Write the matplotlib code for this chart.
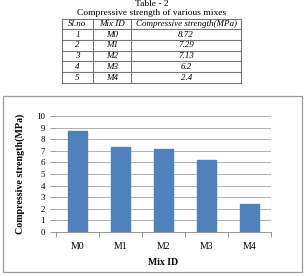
import matplotlib
matplotlib.use("Agg")
import matplotlib.pyplot as plt
from matplotlib.patches import Rectangle
from matplotlib.lines import Line2D

# Data
sl_no = [1, 2, 3, 4, 5]
mix_ids = ["M0", "M1", "M2", "M3", "M4"]
strengths = [8.72, 7.29, 7.13, 6.2, 2.4]
table_headers = ["Sl.no", "Mix ID", "Compressive strength(MPa)"]
table_title1 = "Table - 2"
table_title2 = "Compressive strength of various mixes"
y_ticks = list(range(0, 11))

W, H = 308, 276
plt.rcParams['font.family'] = ['Liberation Serif', 'DejaVu Serif']
fig = plt.figure(figsize=(W / 100, H / 100), dpi=100)

def fx(x):
    return x / W

def fy(y):
    return 1 - y / H

# ---- Table ----
fig.text(fx(152), fy(4), table_title1, ha='center', va='center', fontsize=6.8)
fig.text(fx(152), fy(13.3), table_title2, ha='center', va='center', fontsize=6.8)

col_x = [62.3, 92.7, 131, 241.3]
row_y = [19.3, 29.3, 40, 50.7, 61.3, 72.3, 83]
lc = '#777777'
for x in col_x:
    fig.add_artist(Line2D([fx(x), fx(x)], [fy(row_y[0]), fy(row_y[-1])],
                          color=lc, lw=0.8, transform=fig.transFigure))
for y in row_y:
    fig.add_artist(Line2D([fx(col_x[0]), fx(col_x[-1])], [fy(y), fy(y)],
                          color=lc, lw=0.8, transform=fig.transFigure))

rows = [table_headers] + [[str(s), m, str(v)] for s, m, v in zip(sl_no, mix_ids, strengths)]
for i, row in enumerate(rows):
    yc = (row_y[i] + row_y[i + 1]) / 2
    for j, txt in enumerate(row):
        xc = (col_x[j] + col_x[j + 1]) / 2
        fig.text(fx(xc), fy(yc), txt, ha='center', va='center',
                 fontsize=6.5, style='italic')

# ---- Chart border ----
fig.add_artist(Rectangle((fx(3), fy(272)), fx(302) - fx(3), fy(96) - fy(272),
                         fill=False, edgecolor='#9a9a9a', lw=0.9,
                         transform=fig.transFigure))

# ---- Bar chart ----
ax = fig.add_axes([fx(56), fy(232), fx(271) - fx(56), fy(116) - fy(232)])
x = list(range(len(mix_ids)))
ax.bar(x, strengths, width=0.42, color='#4F81BD', edgecolor='#4F81BD', zorder=3)
ax.set_xlim(-0.5, len(mix_ids) - 0.5)
ax.set_ylim(0, 10)
ax.set_yticks(y_ticks)
ax.set_yticklabels([str(t) for t in y_ticks], fontsize=6.5)
ax.set_xticks(x)
ax.set_xticklabels(mix_ids, fontsize=7)
ax.set_xticks([i + 0.5 for i in range(-1, len(mix_ids))], minor=True)
ax.tick_params(axis='x', which='major', length=0, pad=7)
ax.tick_params(axis='x', which='minor', length=3.5, color='#868686', width=0.6)
ax.tick_params(axis='y', length=4, color='#868686', width=0.6, pad=4)
ax.grid(axis='y', color='#a6a6a6', lw=0.6, zorder=0)
for s in ['top', 'right', 'left']:
    ax.spines[s].set_visible(False)
ax.spines['bottom'].set_color('#868686')
ax.spines['bottom'].set_linewidth(0.6)
ax.set_axisbelow(True)

ax.set_ylabel("Compressive strength(MPa)", fontsize=7.2, fontweight='bold', labelpad=8)
ax.set_xlabel("Mix ID", fontsize=7, fontweight='bold', labelpad=5)

fig.savefig("out.png", dpi=100)
